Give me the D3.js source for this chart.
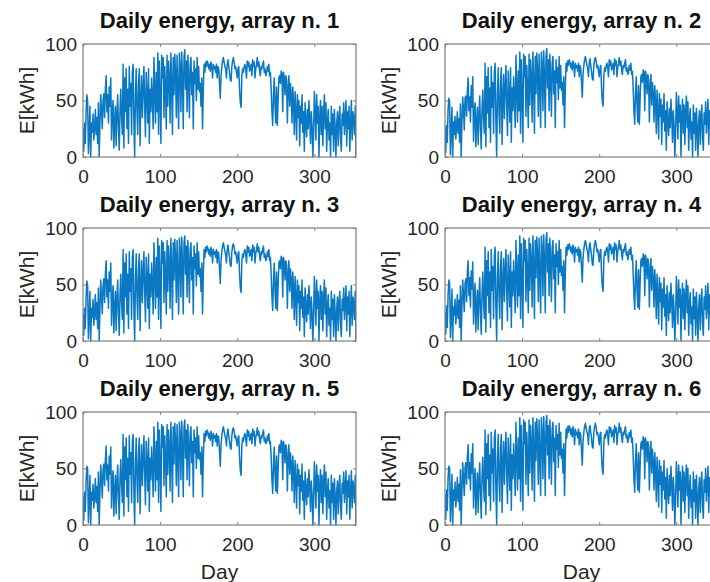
<!DOCTYPE html>
<html>
<head>
<meta charset="utf-8">
<script src="https://cdn.jsdelivr.net/npm/d3@7"></script>
<style>
  html, body { margin: 0; padding: 0; background: #fff; }
  svg { display: block; }
</style>
</head>
<body>
<svg id="chart" width="710" height="582"></svg>
<script>
// ---------------- DATA ----------------
const titles = ["Daily energy, array n. 1", "Daily energy, array n. 2", "Daily energy, array n. 3",
                "Daily energy, array n. 4", "Daily energy, array n. 5", "Daily energy, array n. 6"];
const xTicks = [0, 100, 200, 300];
const yTicks = [0, 50, 100];
const xLabel = "Day";
const yLabel = "E[kWh]";

const array1 = [25,5,30,12,40,55,50,3,20,45, 0,30,22,38,15,25,42,20,35,12, 48,0,30,55,40,25,50,56,35,60, 72,40,55,30,62,45,70,15,40,50, 8,30,45,10,38,55,25,6,42,60, 35,20,82,8,70,40,78,25,60,12, 80,45,65,20,75,82,30,0,55,78, 40,20,65,78,10,50,72,35,60,80, 45,18,75,55,30,78,12,60,40,70, 50,25,88,60,30,75,40,92,20,85, 55,12,90,70,88,35,80,60,25,90, 45,85,70,30,92,65,20,88,55,91, 75,35,90,60,25,92,80,40,93,70, 25,88,95,60,85,40,90,70,35,82, 88,55,75,25,85,65,78,50,88,60, 80,58,65,45,70,25,60,82,75,84, 80,85,83,78,82,76,84,80,70,82, 78,80,75,82,70,80,78,65,52,72, 80,85,88,84,80,78,70,82,86,80, 75,68,67,80,85,88,84,78,80,75, 70,78,80,60,48,44,72,78,75,80, 82,78,70,85,80,84,76,78,82,72, 86,80,84,70,78,82,88,80,84,76, 72,80,78,82,85,75,78,72,74,80, 76,82,72,75,60,40,28,55,70,45, 30,62,28,50,70,72,65,76,74,40, 75,70,55,72,68,30,60,72,45,65, 55,30,62,48,20,58,40,15,55,35, 50,10,45,30,55,22,40,5,48,30, 18,42,25,50,35,12,40,28,0,20, 58,40,15,55,30,45,0,35,50,20, 45,10,38,55,25,48,5,32,42,15, 30,0,45,20,38,5,42,25,0,30, 40,10,35,45,15,5,38,28,48,20, 35,50,10,40,25,45,5,30,50,15, 40,35,20,45,0];

const array2 = [26,4,28,13,42,52,49,2,22,44, 0,31,20,36,16,27,40,21,34,13, 47,0,32,53,41,24,52,54,36,58, 70,41,53,31,63,44,71,14,41,48, 9,31,44,11,37,54,26,7,43,59, 34,21,83,9,71,39,79,26,61,13, 80,44,66,21,76,83,31,0,56,79, 41,21,66,79,11,51,73,34,61,81, 46,19,76,56,31,79,13,61,41,71, 51,26,90,61,31,76,41,93,21,86, 56,13,91,71,89,36,81,61,26,91, 46,86,71,31,93,66,21,89,56,92, 76,36,91,61,26,93,81,41,94,71, 26,89,96,61,86,41,91,71,36,83, 89,56,76,26,86,66,79,51,89,61, 81,59,66,46,71,26,61,83,76,85, 81,86,84,79,83,77,85,81,71,83, 79,81,76,83,71,81,79,66,53,73, 81,86,89,85,81,79,71,83,87,81, 76,69,68,81,86,88,85,79,81,76, 71,79,81,61,49,45,73,79,76,81, 83,79,71,86,81,85,77,79,83,73, 87,81,85,71,79,83,88,81,85,77, 73,81,79,83,86,76,79,73,75,81, 77,83,73,76,61,41,29,56,71,46, 31,63,29,51,71,73,66,77,75,41, 76,71,56,73,69,31,61,73,46,66, 56,31,63,49,21,59,41,16,56,36, 51,11,46,31,56,23,41,6,49,31, 19,43,26,51,36,13,41,29,0,21, 57,41,16,54,31,46,0,36,51,21, 46,11,39,54,26,49,6,33,43,16, 31,0,46,21,39,6,43,26,0,31, 41,11,36,46,16,6,39,29,49,21, 36,51,11,41,26,46,6,31,51,16, 41,36,21,46,0];

const array3 = [24,5,29,11,39,53,49,2,19,44, 0,29,21,37,14,24,41,19,34,11, 47,0,29,54,39,24,49,55,34,59, 71,39,54,29,61,44,69,14,39,49, 7,29,44,9,37,54,24,5,41,59, 34,19,81,7,69,39,77,24,59,11, 79,44,64,19,74,81,29,0,54,77, 39,19,64,77,9,49,71,34,59,79, 44,17,74,54,29,77,11,59,39,69, 49,24,87,59,29,74,39,91,19,84, 54,11,89,69,87,34,79,59,24,89, 44,84,69,29,91,64,19,87,54,90, 74,34,89,59,24,91,79,39,92,69, 24,87,93,59,84,39,89,69,34,81, 87,54,74,24,84,64,77,49,87,59, 79,57,64,44,69,24,59,81,74,83, 79,84,82,77,81,75,83,79,69,81, 77,79,74,81,69,79,77,64,51,71, 79,84,87,83,79,77,69,81,85,79, 74,67,66,79,84,86,83,77,79,74, 69,77,79,59,47,43,71,77,74,79, 81,77,69,84,79,83,75,77,81,71, 85,79,83,69,77,81,86,79,83,75, 71,79,77,81,84,74,77,71,73,79, 75,81,71,74,59,39,27,54,69,44, 29,61,27,49,69,71,64,75,73,39, 74,69,54,71,67,29,59,71,44,64, 54,29,61,47,19,57,39,14,54,34, 49,9,44,29,54,21,39,4,47,29, 17,41,24,49,34,11,39,27,0,19, 57,39,14,54,29,44,0,34,49,19, 44,9,37,54,24,47,4,31,41,14, 29,0,44,19,37,4,41,24,0,29, 39,9,34,44,14,4,37,27,47,19, 34,49,9,39,24,44,4,29,49,14, 39,34,19,44,0];

const array4 = [25,6,31,12,41,54,51,3,21,46, 0,30,23,37,15,26,41,20,36,12, 49,0,31,54,40,26,51,55,35,61, 71,40,56,30,62,46,70,15,40,51, 8,31,45,10,39,56,25,6,42,61, 35,20,83,8,71,40,79,25,61,12, 81,45,66,20,76,83,30,0,56,79, 40,20,66,79,10,51,73,35,61,81, 45,18,76,56,30,79,12,61,40,71, 50,25,89,61,30,76,40,93,20,86, 55,12,91,71,89,35,81,61,25,91, 45,86,71,30,93,66,20,89,56,92, 76,35,91,61,25,93,81,40,94,71, 25,89,96,61,86,40,91,71,35,83, 89,55,76,25,86,66,79,50,89,61, 81,58,66,45,71,25,61,83,76,85, 81,86,84,79,83,77,85,81,70,83, 79,81,76,83,70,81,79,65,52,73, 81,86,89,85,81,79,70,83,87,81, 76,68,67,81,86,89,85,79,81,76, 70,79,81,60,48,44,73,79,76,81, 83,79,70,86,81,85,77,79,83,72, 87,81,85,70,79,83,89,81,85,77, 72,81,79,83,86,76,79,72,75,81, 77,83,72,76,60,40,28,56,71,45, 30,63,28,51,71,73,66,77,75,40, 76,71,55,73,69,30,61,73,45,66, 56,30,63,48,20,59,40,15,56,35, 51,10,46,30,56,22,41,5,49,30, 18,43,25,51,35,12,41,28,0,20, 57,40,15,54,30,46,0,35,51,20, 46,10,39,54,25,49,5,32,43,15, 30,0,46,20,39,5,43,25,0,30, 41,10,35,46,15,5,39,28,49,20, 35,51,10,41,25,46,5,30,51,15, 41,35,20,46,0];

const array5 = [25,4,29,12,39,52,50,2,20,44, 0,29,22,36,15,24,41,20,34,12, 47,0,30,53,40,24,49,54,35,58, 70,40,53,30,61,45,69,15,40,48, 8,30,44,10,37,53,25,5,42,58, 35,20,80,8,69,40,77,25,59,12, 79,45,64,20,74,80,30,0,54,77, 40,20,64,77,10,49,71,35,59,79, 45,18,74,54,30,77,12,59,40,69, 50,25,87,59,30,74,40,91,20,84, 55,12,89,69,87,35,79,59,25,89, 45,84,69,30,91,64,20,87,54,90, 74,35,89,59,25,91,79,40,92,69, 25,87,93,59,84,40,89,69,35,81, 87,55,74,25,84,64,77,50,87,59, 79,58,64,45,69,25,59,81,74,83, 79,84,82,77,81,75,83,79,70,81, 77,79,74,81,70,79,77,65,52,71, 79,84,87,83,79,77,70,81,85,79, 74,68,67,79,84,86,83,77,79,74, 70,77,79,60,48,44,71,77,74,79, 81,77,70,84,79,83,75,77,81,72, 85,79,83,70,77,81,86,79,83,75, 72,79,77,81,84,74,77,72,73,79, 75,81,72,74,60,40,28,54,69,45, 30,61,28,49,69,71,64,75,73,40, 74,69,55,71,67,30,59,71,45,64, 54,30,61,48,20,57,40,15,54,35, 49,10,44,30,54,22,39,5,47,30, 18,41,25,49,35,12,39,28,0,20, 56,40,15,53,30,44,0,35,49,20, 44,10,37,53,25,47,5,31,41,15, 30,0,44,20,37,5,41,25,0,30, 39,10,34,44,15,5,37,28,47,20, 34,48,10,39,25,44,5,30,48,15, 39,34,20,44,0];

const array6 = [27,5,31,13,42,52,50,3,22,45, 0,31,22,38,16,26,42,21,36,13, 49,0,31,55,41,26,51,55,36,60, 71,41,55,31,63,46,72,15,41,50, 9,31,46,11,39,55,26,6,43,60, 36,21,84,9,72,41,80,26,62,13, 82,46,67,21,77,84,31,0,57,80, 41,21,67,80,11,52,74,36,62,82, 46,19,77,57,31,80,13,62,41,72, 51,26,91,62,31,77,41,95,21,88, 56,13,93,72,91,36,82,62,26,93, 46,88,72,31,95,67,21,91,57,94, 77,36,93,62,26,95,82,41,96,72, 26,91,97,62,88,41,93,72,36,85, 91,56,77,26,88,67,80,51,90,62, 82,59,67,46,72,26,62,85,77,87, 82,88,86,80,85,78,87,82,71,85, 80,82,77,85,71,82,80,66,53,74, 82,87,90,86,82,80,71,85,88,82, 77,69,68,82,87,90,86,80,82,77, 71,80,82,61,49,45,74,80,77,82, 84,80,71,87,82,86,78,80,84,73, 88,82,86,71,80,84,90,82,86,78, 73,82,80,84,87,77,80,73,76,82, 78,84,73,77,61,41,29,57,72,46, 31,64,29,52,72,74,67,78,76,41, 77,72,56,74,70,31,62,74,46,67, 56,31,64,49,21,60,41,16,57,36, 52,11,47,31,57,23,42,6,50,31, 19,44,26,52,36,13,42,29,0,21, 56,41,16,53,31,47,0,36,52,21, 47,11,40,53,26,50,6,33,44,16, 31,0,47,21,40,6,44,26,0,31, 42,11,36,47,16,6,40,29,50,21, 36,52,11,42,26,47,6,31,52,16, 42,36,21,47,0];

const series = [array1, array2, array3, array4, array5, array6];

// ---------------- LAYOUT ----------------
const colX = [83, 445];
const rowY = [44, 228, 412];
const plotW = 273, plotH = 113;
const lineColor = "#0a78c2";
const boxColor = "#7f7f7f";
const textColor = "#262626";
const fontFamily = "'Liberation Sans', Arial, Helvetica, sans-serif";

const svg = d3.select("#chart");
svg.append("rect").attr("width", 710).attr("height", 582).attr("fill", "#fff");

series.forEach((vals, k) => {
  const col = k % 2, row = Math.floor(k / 2);
  const x0 = colX[col], y0 = rowY[row];
  const days = d3.range(vals.length);
  const x = d3.scaleLinear().domain([0, 354]).range([0, plotW]);
  const y = d3.scaleLinear().domain([0, 100]).range([plotH, 0]);

  const g = svg.append("g").attr("transform", `translate(${x0},${y0})`);

  const clipId = "clip" + k;
  g.append("clipPath").attr("id", clipId)
    .append("rect").attr("x", 0).attr("y", -1).attr("width", plotW).attr("height", plotH + 2);

  // line
  g.append("path")
    .datum(vals)
    .attr("clip-path", `url(#${clipId})`)
    .attr("fill", "none")
    .attr("stroke", lineColor)
    .attr("stroke-width", 1.5)
    .attr("stroke-linejoin", "round")
    .attr("d", d3.line().x((d, i) => x(days[i])).y(d => y(d)));

  // axes (ticks inward)
  const styleAxis = sel => {
    sel.select(".domain").remove();
    sel.selectAll(".tick line").attr("stroke", boxColor).attr("stroke-width", 1);
    sel.selectAll(".tick text").attr("fill", textColor)
      .style("font-family", fontFamily).style("font-size", "19px");
  };
  g.append("g").attr("transform", `translate(0,${plotH})`)
    .call(d3.axisBottom(x).tickValues(xTicks).tickSize(-3).tickPadding(13).tickFormat(d3.format("d")))
    .call(styleAxis);
  g.append("g")
    .call(d3.axisTop(x).tickValues(xTicks).tickSize(-3).tickFormat(""))
    .call(styleAxis);
  g.append("g")
    .call(d3.axisLeft(y).tickValues(yTicks).tickSize(-3).tickPadding(6).tickFormat(d3.format("d")))
    .call(styleAxis);
  g.append("g").attr("transform", `translate(${plotW},0)`)
    .call(d3.axisRight(y).tickValues(yTicks).tickSize(-3).tickFormat(""))
    .call(styleAxis);

  // box
  g.append("rect").attr("width", plotW).attr("height", plotH)
    .attr("fill", "none").attr("stroke", boxColor).attr("stroke-width", 1.2);

  // title
  g.append("text")
    .attr("x", plotW / 2).attr("y", -16)
    .attr("text-anchor", "middle")
    .attr("fill", "#111")
    .style("font-family", fontFamily).style("font-size", "22px").style("font-weight", "bold")
    .text(titles[k]);

  // y label
  g.append("text")
    .attr("transform", `translate(${-49},${plotH / 2}) rotate(-90)`)
    .attr("text-anchor", "middle")
    .attr("fill", textColor)
    .style("font-family", fontFamily).style("font-size", "21px")
    .text(yLabel);

  // x label (bottom row only)
  if (row === 2) {
    g.append("text")
      .attr("x", plotW / 2).attr("y", plotH + 54)
      .attr("text-anchor", "middle")
      .attr("fill", textColor)
      .style("font-family", fontFamily).style("font-size", "21px")
      .text(xLabel);
  }
});
</script>
</body>
</html>
